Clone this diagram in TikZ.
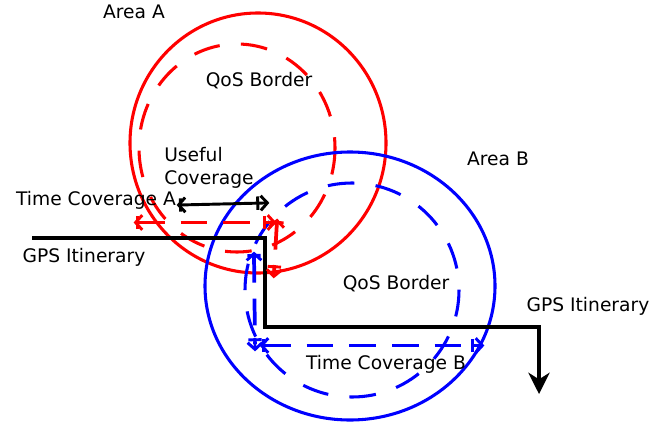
\documentclass[tikz,border=0pt]{standalone}
\usepackage{fontspec}
\setmainfont{DejaVu Sans}
\usetikzlibrary{arrows.meta,calc}
\tikzset{
  barbs/.tip={Straight Barb[length=5pt,width=11pt,sep=-4pt] Bar[width=10pt]},
  barbe/.tip={Bar[width=10pt] Straight Barb[length=5pt,width=11pt,sep=-4pt]}
}
\begin{document}
\begin{tikzpicture}[x=0.75pt,y=-0.75pt,
  lbl/.style={font=\fontsize{14}{17.5}\selectfont, inner sep=0pt},
  area/.style={line width=2.3pt},
  qos/.style={line width=2.3pt, dash pattern=on 20pt off 16pt},
  path/.style={line width=2.3pt, black},
  dim/.style={arrows={barbs-barbe}, line width=2.2pt},
  tipline/.style={line width=2.2pt},
  dimdash/.style={line width=2.8pt, dash pattern=on 20pt off 12pt, shorten <=1.5pt, shorten >=1.5pt}]
\useasboundingbox (0,0) rectangle (667,428);
% centres
\coordinate (cA) at (258,143);
\coordinate (qA) at (237,148);
\coordinate (cB) at (350,286);
\coordinate (qB) at (352,290);
% areas
\draw[area, red] (cA) ellipse [x radius=128, y radius=130];
\draw[qos, red] (qA) ellipse [x radius=98, y radius=104];
\draw[area, blue] (cB) ellipse [x radius=145, y radius=134];
\draw[qos, blue] (qB) ellipse [x radius=107, y radius=107];
% GPS itinerary
\coordinate (g0) at (32,238);
\coordinate (g1) at (265,238);
\coordinate (g2) at (265,327);
\coordinate (g3) at (539,327);
\coordinate (g4) at (539,394);
\draw[path, -{Stealth[length=16pt,width=16pt,inset=5pt]}] (g0) -- (g1) -- (g2) -- (g3) -- (g4);
% useful coverage
\coordinate (u0) at (179,205);
\coordinate (u1) at (264,203);
\draw[dim, black] (u0) -- (u1);
% time coverage A
\coordinate (ta0) at (136,222.5);
\coordinate (ta1) at (271,222.5);
\coordinate (ta2) at (277,221);
\coordinate (ta3) at (274,273);
% time coverage B
\coordinate (tb0) at (254,254);
\coordinate (tb1) at (255,346);
\coordinate (tb2) at (262,345.5);
\coordinate (tb3) at (479,345.5);
\foreach \a/\b/\c in {ta0/ta1/red, ta2/ta3/red, tb0/tb1/blue, tb2/tb3/blue}{
  \draw[dimdash, \c] (\a) -- (\b);
  \draw[tipline, \c, arrows={barbs-}] (\a) -- ($(\a)!6pt!(\b)$);
  \draw[tipline, \c, arrows={-barbe}] ($(\b)!6pt!(\a)$) -- (\b);
}
% labels
\node[lbl] (areaA) at (134,12) {Area A};
\node[lbl] (qosA) at (259,81) {QoS Border};
\node[lbl, align=left, anchor=north west] (useful) at (164,147) {Useful\\Coverage};
\node[lbl] (tcA) at (96,200) {Time Coverage A};
\node[lbl] (gpsA) at (84,257) {GPS Itinerary};
\node[lbl] (areaB) at (498,159) {Area B};
\node[lbl] (qosB) at (396,284) {QoS Border};
\node[lbl] (gpsB) at (588,306) {GPS Itinerary};
\node[lbl] (tcB) at (386,364) {Time Coverage B};
\end{tikzpicture}
\end{document}
